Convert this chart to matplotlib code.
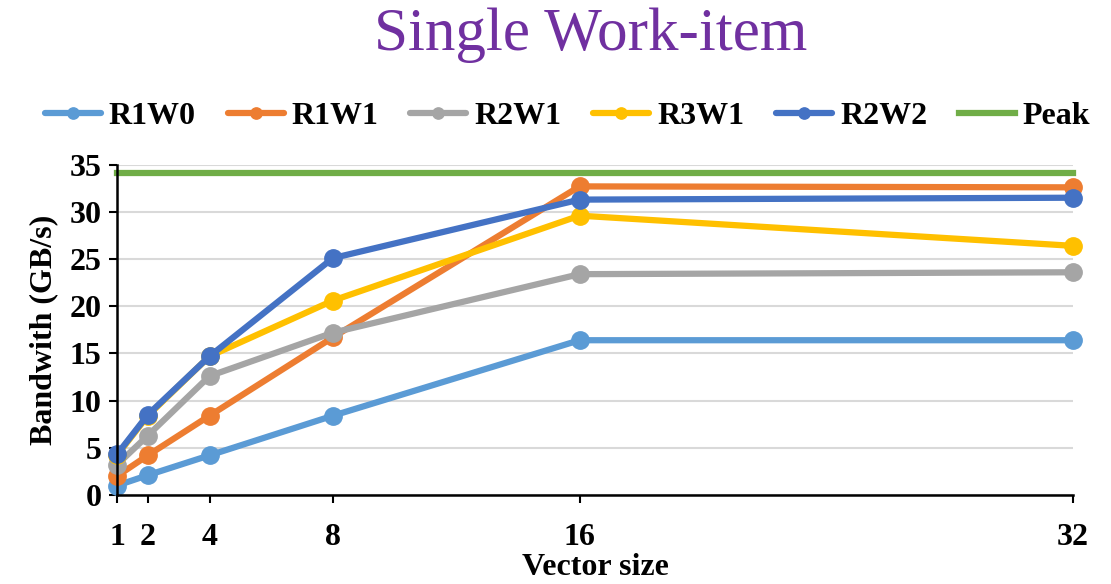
import matplotlib.pyplot as plt

# Bandwidth measurements per vector size
vector_sizes = [1, 2, 4, 8, 16, 32]
r1w0 = [1.0, 2.1, 4.2, 8.4, 16.4, 16.4]
r1w1 = [2.0, 4.2, 8.4, 16.7, 32.7, 32.6]
r2w1 = [3.2, 6.3, 12.6, 17.2, 23.4, 23.6]
r3w1 = [4.2, 8.4, 14.7, 20.6, 29.6, 26.4]
r2w2 = [4.3, 8.5, 14.7, 25.1, 31.3, 31.5]
peak = [34.1, 34.1]

series = [
    ('R1W0', r1w0, '#5B9BD5'),
    ('R1W1', r1w1, '#ED7D31'),
    ('R2W1', r2w1, '#A5A5A5'),
    ('R3W1', r3w1, '#FFC000'),
    ('R2W2', r2w2, '#4472C4'),
]

plt.rcParams['font.family'] = ['Liberation Serif', 'DejaVu Serif']

fig = plt.figure(figsize=(11.11, 5.84), dpi=100)
ax = fig.add_axes([0.1053, 0.1524, 0.8605, 0.5656])

for name, vals, color in series:
    ax.plot(vector_sizes, vals, marker='o', color=color, linewidth=4.5,
            markersize=12.5, label=name, clip_on=False, solid_capstyle='round')
ax.plot([vector_sizes[0], vector_sizes[-1]], peak, color='#70AD47',
        linewidth=4.5, label='Peak', clip_on=False)

ax.set_xlim(1, 32)
ax.set_ylim(0, 35)
ax.set_xticks(vector_sizes)
ax.set_yticks(range(0, 36, 5))
ax.tick_params(axis='both', labelsize=23, length=6, width=1.5, direction='out')
ax.tick_params(axis='x', pad=14)
ax.tick_params(axis='y', pad=5)
for lbl in ax.get_xticklabels() + ax.get_yticklabels():
    lbl.set_fontweight('bold')

ax.grid(axis='y', color='#D9D9D9', linewidth=1.5)
ax.set_axisbelow(True)
for side in ['top', 'right']:
    ax.spines[side].set_visible(False)
for side in ['left', 'bottom']:
    ax.spines[side].set_linewidth(1.8)

ax.set_xlabel('Vector size', fontsize=23, fontweight='bold', labelpad=1)
ax.set_ylabel('Bandwith (GB/s)', fontsize=23, fontweight='bold', labelpad=8)

fig.text(0.532, 0.94, 'Single Work-item', ha='center', va='center',
         fontsize=44, color='#7030A0')

fig.legend(loc='center', bbox_to_anchor=(0.511, 0.80), ncol=6, frameon=False,
           prop={'size': 23, 'weight': 'bold'}, handlelength=1.75,
           handletextpad=0.25, columnspacing=1.0, markerscale=0.65)

fig.savefig('out.png', dpi=100)
